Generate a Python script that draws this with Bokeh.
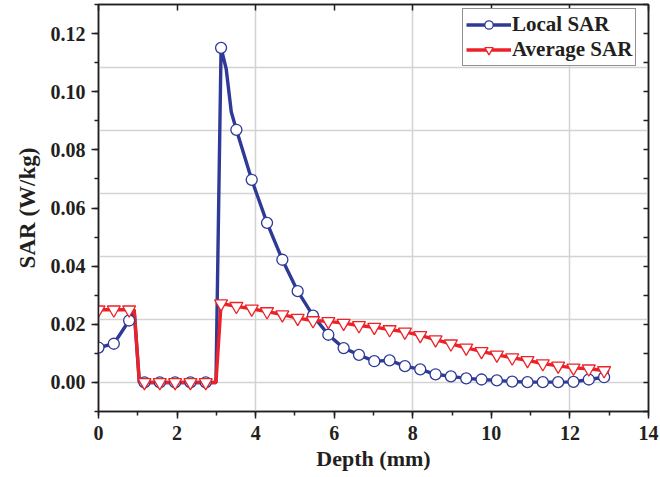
from bokeh.plotting import figure
from bokeh.models import (Range1d, LinearAxis, SingleIntervalTicker, FixedTicker,
                          PrintfTickFormatter, CustomJSTickFormatter, Legend, LegendItem)
from bokeh.embed import file_html
from bokeh.resources import INLINE

# ---- data ----
# depths carrying markers (mm)
depth_markers = [0.00, 0.39, 0.78, 1.17, 1.56, 1.95, 2.34, 2.73, 3.12, 3.51,
                 3.90, 4.29, 4.68, 5.07, 5.46, 5.85, 6.24, 6.63, 7.02, 7.41,
                 7.80, 8.19, 8.58, 8.97, 9.36, 9.75, 10.14, 10.53, 10.92, 11.31,
                 11.70, 12.09, 12.48, 12.87]
local_sar = [0.0120, 0.0133, 0.0213, 0.0, 0.0, 0.0, 0.0, 0.0, 0.1151, 0.0869,
             0.0697, 0.0549, 0.0422, 0.0314, 0.0230, 0.0164, 0.0118, 0.0095, 0.0073, 0.0076,
             0.0056, 0.0045, 0.0028, 0.0021, 0.0014, 0.0010, 0.0007, 0.0003, 0.0001, 0.0001,
             0.0001, 0.0002, 0.0010, 0.0018]
average_sar = [0.0250, 0.0250, 0.0250, 0.0, 0.0, 0.0, 0.0, 0.0, 0.0271, 0.0262,
               0.0253, 0.0244, 0.0233, 0.0221, 0.0213, 0.0210, 0.0204, 0.0196, 0.0190, 0.0182,
               0.0174, 0.0162, 0.0147, 0.0133, 0.0119, 0.0107, 0.0095, 0.0085, 0.0076, 0.0065,
               0.0057, 0.0050, 0.0047, 0.0041]
# extra samples of the curves that carry no marker
local_extra_depth = [0.91, 1.04, 2.99, 3.25, 3.38, 13.00]
local_extra_sar = [0.0240, 0.0, 0.0, 0.1079, 0.0930, 0.0022]
average_extra_depth = [0.91, 1.04, 2.99, 13.00]
average_extra_sar = [0.0250, 0.0, 0.0, 0.0038]

x_ticks_interval = 2
y_ticks_interval = 0.02
legend_labels = ["Local SAR", "Average SAR"]


def merged(d1, v1, d2, v2):
    pairs = sorted(zip(list(d1) + list(d2), list(v1) + list(v2)))
    return [a for a, _ in pairs], [b for _, b in pairs]


local_line_x, local_line_y = merged(depth_markers, local_sar, local_extra_depth, local_extra_sar)
avg_line_x, avg_line_y = merged(depth_markers, average_sar, average_extra_depth, average_extra_sar)

BLUE = "#2E3A96"
RED = "#EC2228"
INK = "#231F20"
FONT = "Liberation Serif"

p = figure(width=660, height=477, x_range=Range1d(0, 14), y_range=Range1d(-0.01, 0.13),
           output_backend="svg", toolbar_location=None,
           min_border_left=98, min_border_right=12, min_border_top=4, min_border_bottom=66,
           x_axis_label="Depth (mm)", y_axis_label="SAR (W/kg)")
p.background_fill_color = "white"
p.border_fill_color = "white"
p.outline_line_color = INK
p.outline_line_width = 1.5

# grid
p.xgrid.ticker = FixedTicker(ticks=[4, 8, 12])
p.ygrid.ticker = FixedTicker(ticks=[0.0, 0.02167, 0.04333, 0.065, 0.08667, 0.10833])
for g in (p.xgrid[0], p.ygrid[0]):
    g.grid_line_color = "#d3d3d3"
    g.grid_line_width = 1.5

# bottom axis
xa = p.xaxis[0]
xa.ticker = SingleIntervalTicker(interval=x_ticks_interval, num_minor_ticks=2)
# left axis
ya = p.yaxis[0]
ya.ticker = SingleIntervalTicker(interval=y_ticks_interval, num_minor_ticks=2)
ya.formatter = PrintfTickFormatter(format="%.2f")
for ax in (xa, ya):
    ax.axis_line_width = 1.5
    ax.axis_line_color = INK
    ax.major_tick_line_color = INK
    ax.minor_tick_line_color = INK
    ax.major_tick_line_width = 1.5
    ax.minor_tick_line_width = 1.5
    ax.major_tick_in = 0
    ax.major_tick_out = 7
    ax.minor_tick_in = 0
    ax.minor_tick_out = 4
    ax.major_label_text_font = FONT
    ax.major_label_text_font_style = "bold"
    ax.major_label_text_font_size = "20px"
    ax.major_label_text_color = INK
    ax.axis_label_text_font = FONT
    ax.axis_label_text_font_style = "bold"
    ax.axis_label_text_font_size = "22px"
    ax.axis_label_text_color = INK
xa.major_label_standoff = 7
xa.axis_label_standoff = 3
ya.major_label_standoff = 6
ya.axis_label_standoff = 8
ya.axis_label_text_font_size = "23px"

# mirror axes (top / right), ticks inside, no labels
top = LinearAxis(ticker=SingleIntervalTicker(interval=x_ticks_interval, num_minor_ticks=0),
                 formatter=CustomJSTickFormatter(code="return '';"),
                 major_tick_in=6, major_tick_out=0, minor_tick_line_color=None,
                 major_label_standoff=0, axis_line_color=INK, major_tick_line_color=INK,
                 axis_line_width=1.5, major_tick_line_width=1.5)
right = LinearAxis(ticker=SingleIntervalTicker(interval=0.01, num_minor_ticks=0),
                   formatter=CustomJSTickFormatter(code="return '';"),
                   major_tick_in=5, major_tick_out=0, minor_tick_line_color=None,
                   major_label_standoff=0, axis_line_color=INK, major_tick_line_color=INK,
                   axis_line_width=1.5, major_tick_line_width=1.5)
p.add_layout(top, "above")
p.add_layout(right, "right")

# curves
l1 = p.line(local_line_x, local_line_y, line_color=BLUE, line_width=3.4)
l2 = p.line(avg_line_x, avg_line_y, line_color=RED, line_width=3.4)
m1 = p.scatter(depth_markers, local_sar, marker="circle", size=11,
               fill_color="white", line_color=BLUE, line_width=1.3)
m2 = p.scatter(depth_markers, average_sar, marker="inverted_triangle", size=13,
               fill_color="white", line_color=RED, line_width=1.3)

legend = Legend(items=[LegendItem(label=legend_labels[0], renderers=[l1, m1]),
                       LegendItem(label=legend_labels[1], renderers=[l2, m2])],
                location=(364, 345), margin=0)
legend.border_line_color = INK
legend.border_line_width = 1.2
legend.background_fill_alpha = 1.0
legend.label_text_font = FONT
legend.label_text_font_style = "bold"
legend.label_text_font_size = "21px"
legend.label_text_color = INK
legend.glyph_width = 45
legend.glyph_height = 21
legend.label_height = 21
legend.label_standoff = 1
legend.spacing = 0
legend.padding = 3
p.add_layout(legend)

open("out.html", "w").write(file_html(p, INLINE))
